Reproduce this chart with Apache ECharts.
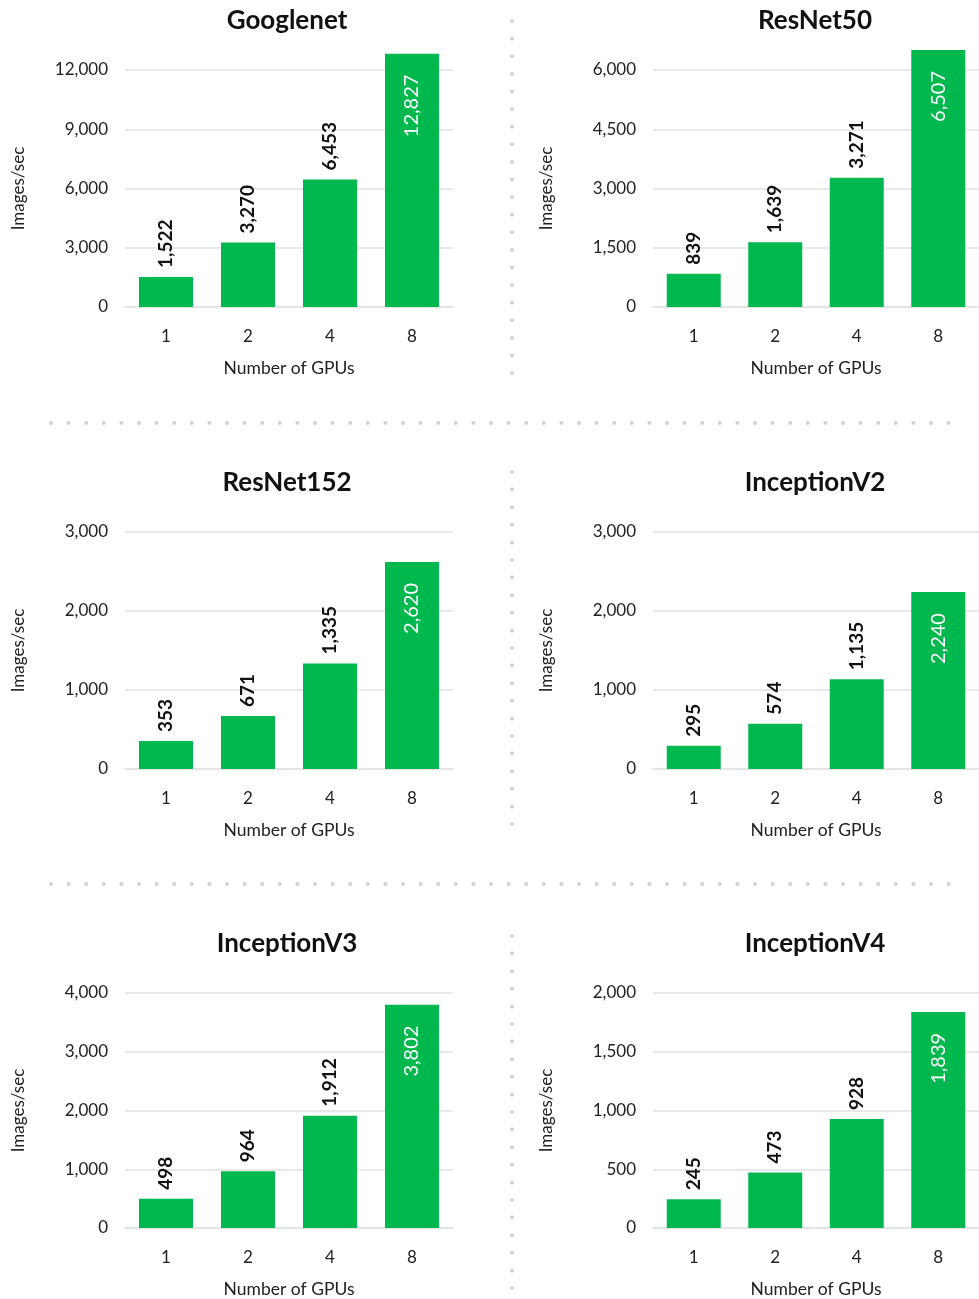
<!DOCTYPE html>
<html>
<head>
<meta charset="utf-8">
<script src="https://cdn.jsdelivr.net/npm/echarts@6/dist/echarts.min.js"></script>
<style>
  html, body { margin: 0; padding: 0; background: #fff; }
  #chart { width: 979px; height: 1299px; }
</style>
</head>
<body>
<div id="chart"></div>
<script>
// GPU scaling benchmarks (images/sec by number of GPUs)
const gpuCounts = ['1', '2', '4', '8'];

const googlenet   = [1522, 3270, 6453, 12827];
const resnet50    = [839, 1639, 3271, 6507];
const resnet152   = [353, 671, 1335, 2620];
const inceptionV2 = [295, 574, 1135, 2240];
const inceptionV3 = [498, 964, 1912, 3802];
const inceptionV4 = [245, 473, 928, 1839];

const modelNames = ['Googlenet', 'ResNet50', 'ResNet152', 'InceptionV2', 'InceptionV3', 'InceptionV4'];
const axisMax      = [12000, 6000, 3000, 3000, 4000, 2000];
const axisInterval = [3000, 1500, 1000, 1000, 1000, 500];

const allSeries = [googlenet, resnet50, resnet152, inceptionV2, inceptionV3, inceptionV4];

const FONT = 'Lato, "Open Sans", sans-serif';
const GREEN = '#00b84d';
const fmt = v => Number(v).toLocaleString('en-US');

// panel layout: two columns, three rows
const colLeft = [125, 653];
const rowTop = [70, 532, 993];
const plotW = 328, plotH = 237;

const titles = [], grids = [], xAxes = [], yAxes = [], series = [];

allSeries.forEach((values, k) => {
  const col = k % 2, row = Math.floor(k / 2);
  const left = colLeft[col], top = rowTop[row];
  titles.push({
    text: modelNames[k],
    left: left + plotW / 2 - 7,
    top: top - 67,
    textAlign: 'center',
    textStyle: { fontFamily: FONT, fontSize: 26, fontWeight: 'bold', color: '#111' }
  });
  grids.push({ left: left, top: top, width: plotW, height: plotH });
  xAxes.push({
    type: 'category', gridIndex: k, data: gpuCounts,
    name: 'Number of GPUs', nameLocation: 'middle', nameGap: 52,
    nameTextStyle: { fontFamily: FONT, fontSize: 17.5, color: '#222' },
    axisLine: { show: true, lineStyle: { color: '#e4e4e4', width: 2 } },
    axisTick: { show: false },
    axisLabel: { fontFamily: FONT, fontSize: 17, color: '#222', margin: 21 }
  });
  yAxes.push({
    type: 'value', gridIndex: k, min: 0, max: axisMax[k], interval: axisInterval[k],
    name: 'Images/sec', nameLocation: 'middle', nameGap: 98,
    nameTextStyle: { fontFamily: FONT, fontSize: 17, color: '#222' },
    axisLine: { show: false }, axisTick: { show: false },
    axisLabel: { fontFamily: FONT, fontSize: 17, color: '#222', margin: 17, formatter: fmt },
    splitLine: { lineStyle: { color: '#e8e8e8', width: 2 } }
  });
  const last = values.length - 1;
  series.push({
    type: 'bar', xAxisIndex: k, yAxisIndex: k, clip: false,
    barWidth: 54,
    itemStyle: { color: GREEN },
    label: {
      show: true, position: 'top', rotate: 90, align: 'left', verticalAlign: 'middle',
      distance: 9, fontFamily: FONT, fontSize: 19, fontWeight: 'bold', color: '#111',
      formatter: p => fmt(p.value)
    },
    data: values.map((v, i) => i === last ? {
      value: v,
      label: {
        position: 'insideTop', align: 'right', verticalAlign: 'middle', distance: 21,
        color: '#fff', fontWeight: 'normal', fontSize: 20
      }
    } : v)
  });
});

// dotted separators between panels
const dotStyle = { stroke: '#d2d2d2', lineWidth: 4, lineCap: 'round', lineDash: [0, 17.6] };
const separators = [
  { x1: 512, y1: 21, x2: 512, y2: 375 },
  { x1: 512, y1: 472, x2: 512, y2: 826 },
  { x1: 512, y1: 936, x2: 512, y2: 1296 },
  { x1: 51, y1: 423, x2: 952, y2: 423 },
  { x1: 51, y1: 884, x2: 952, y2: 884 }
].map(s => ({ type: 'line', shape: s, style: dotStyle, silent: true }));

const chart = echarts.init(document.getElementById('chart'), null, { renderer: 'canvas' });
chart.setOption({
  animation: false,
  title: titles,
  grid: grids,
  xAxis: xAxes,
  yAxis: yAxes,
  series: series,
  graphic: separators
});
</script>
</body>
</html>
